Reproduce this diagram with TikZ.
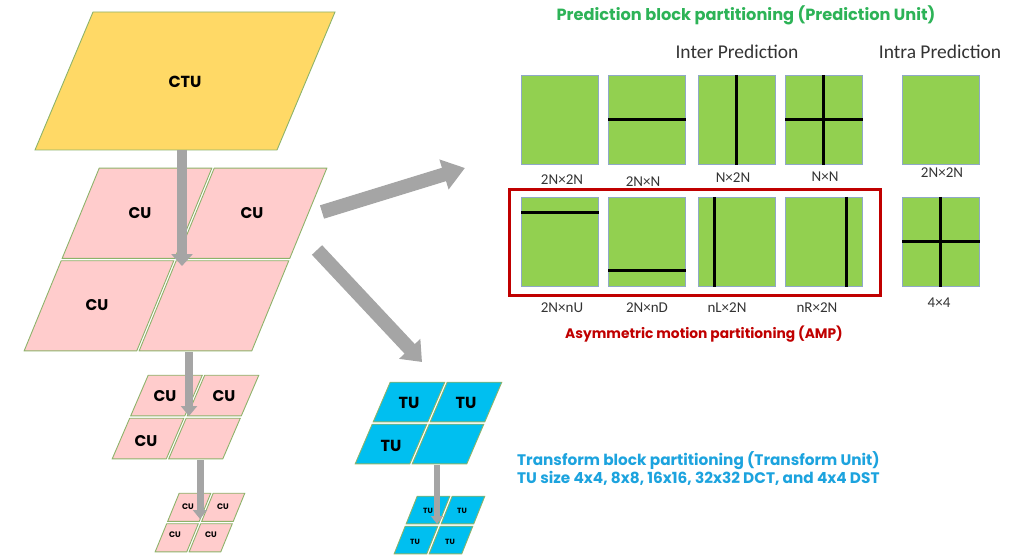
\documentclass[tikz,border=0pt]{standalone}
\usepackage{fontspec}
\setmainfont{Carlito}
\newfontfamily\gothic{Poppins}
\usetikzlibrary{arrows.meta,calc}
\definecolor{ctuY}{HTML}{FFD966}
\definecolor{cuP}{HTML}{FFCCCC}
\definecolor{tuC}{HTML}{00BFF0}
\definecolor{edgeG}{HTML}{8DB36A}
\definecolor{arrG}{HTML}{A5A5A5}
\definecolor{pbG}{HTML}{92D050}
\definecolor{pbEdge}{HTML}{8FA8C8}
\definecolor{ampR}{HTML}{C00000}
\definecolor{titleG}{HTML}{2DB357}
\definecolor{tuText}{HTML}{1CA3DE}
\definecolor{lblGray}{HTML}{333333}
% 2x2 grid of slanted cells: x0, y0, width, height, shear, fill
\newcommand{\qgrid}[6]{%
  \foreach \i in {0,1}{\foreach \j in {0,1}{%
    \pgfmathsetmacro{\tlx}{#1+\i*#3/2-\j*#5/2}%
    \pgfmathsetmacro{\tly}{#2+\j*#4/2}%
    \pgfmathsetmacro{\ddx}{#5/#4*(#4/2-2.4)}%
    \path[fill=#6,draw=edgeG,line width=0.9pt,line join=miter]
      (\tlx+1.2,\tly+1.2) -- ++(#3/2-2.4,0) -- ++(-\ddx,#4/2-2.4) -- ++(-#3/2+2.4,0) -- cycle;
  }}}
\tikzset{
  unitlbl/.style={font=\gothic\bfseries\fontsize{#1}{#1}\selectfont, text=black, inner sep=0pt},
  garrow/.style={draw=arrG, line cap=butt},
  gbox/.style={rectangle, fill=pbG, draw=pbEdge, line width=0.8pt, minimum width=77pt, minimum height=89pt, inner sep=0pt, anchor=north west},
  pline/.style={line width=3pt, black},
  plab/.style={font=\fontsize{15}{15}\selectfont, text=lblGray, inner sep=0pt},
  headtxt/.style={font=\fontsize{19.5}{19.5}\selectfont, text=lblGray, inner sep=0pt}
}
\begin{document}
\begin{tikzpicture}[x=1pt,y=-1pt]
\useasboundingbox (0,0) rectangle (1022,556);
% CTU
\path[fill=ctuY, draw=edgeG, line width=0.9pt] (93,12) -- (335,12) -- (277,150) -- (35,150) -- cycle;
% CU layers
\qgrid{98}{167}{230}{185}{76}{cuP}
\qgrid{147}{374}{113}{86}{37}{cuP}
\qgrid{178}{492}{68}{61}{25}{cuP}
% TU layers
\qgrid{389}{381}{114}{84}{36}{tuC}
\qgrid{416}{495}{70}{60}{24}{tuC}
% arrow end points
\coordinate (a1s) at (182,150); \coordinate (a1e) at (182,266);
\coordinate (a2s) at (189,352); \coordinate (a2e) at (189,416);
\coordinate (a3s) at (200,460); \coordinate (a3e) at (200,519);
\coordinate (a4s) at (437,465); \coordinate (a4e) at (437,524);
\coordinate (b1s) at (322,212); \coordinate (b1e) at (465,168);
\coordinate (b2s) at (317,250); \coordinate (b2e) at (422,362);
\draw[garrow, line width=10pt, -{Triangle[width=21pt,length=12pt]}] (a1s) -- (a1e);
\draw[garrow, line width=8pt, -{Triangle[width=16pt,length=10pt]}] (a2s) -- (a2e);
\draw[garrow, line width=7pt, -{Triangle[width=14pt,length=9pt]}] (a3s) -- (a3e);
\draw[garrow, line width=6pt, -{Triangle[width=12pt,length=8pt]}] (a4s) -- (a4e);
\draw[garrow, line width=14pt, -{Triangle[width=30pt,length=22pt]}] (b1s) -- (b1e);
\draw[garrow, line width=14pt, -{Triangle[width=28pt,length=18pt]}] (b2s) -- (b2e);
% unit labels
\node[unitlbl=16] (ctu) at (185,82) {CTU};
\node[unitlbl=15.5] (cu1a) at (140,213) {CU};
\node[unitlbl=15.5] (cu1b) at (252,213) {CU};
\node[unitlbl=15.5] (cu1c) at (97,305) {CU};
\node[unitlbl=15.5] (cu2a) at (165,396) {CU};
\node[unitlbl=15.5] (cu2b) at (224,396) {CU};
\node[unitlbl=15.5] (cu2c) at (146,441) {CU};
\node[unitlbl=8] (cu3a) at (188,507) {CU};
\node[unitlbl=8] (cu3b) at (223,507) {CU};
\node[unitlbl=8] (cu3c) at (175,535) {CU};
\node[unitlbl=8] (cu3d) at (211,535) {CU};
\node[unitlbl=16] (tu1a) at (409,403) {TU};
\node[unitlbl=16] (tu1b) at (466,403) {TU};
\node[unitlbl=16] (tu1c) at (391,446) {TU};
\node[unitlbl=7.5] (tu2a) at (428,511) {TU};
\node[unitlbl=7.5] (tu2b) at (462,511) {TU};
\node[unitlbl=7.5] (tu2c) at (415,542) {TU};
\node[unitlbl=7.5] (tu2d) at (450,542) {TU};
% Prediction unit side
\node[font=\gothic\bfseries\fontsize{16.2}{16.2}\selectfont, text=titleG, inner sep=0pt] (title) at (746,15) {Prediction block partitioning (Prediction Unit)};
\node[headtxt] (inter) at (737,52) {Inter Prediction};
\node[headtxt] (intra) at (940,52) {Intra Prediction};
% row 1
\node[gbox] (p1) at (521,75) {};
\node[gbox] (p2) at (608,75) {};
\node[gbox] (p3) at (698,75) {};
\node[gbox] (p4) at (785,75) {};
\node[gbox] (p5) at (902,75) {};
\draw[pline] (p2.west) -- (p2.east);
\draw[pline] (p3.north) -- (p3.south);
\draw[pline] (p4.west) -- (p4.east);
\draw[pline] (p4.north) -- (p4.south);
\node[plab] (l1) at (562,180) {2N×2N};
\node[plab] (l2) at (643,182) {2N×N};
\node[plab] (l3) at (733,178) {N×2N};
\node[plab] (l4) at (825,177) {N×N};
\node[plab] (l5) at (942,173) {2N×2N};
% row 2
\node[gbox] (q1) at (521,197) {};
\node[gbox] (q2) at (608,197) {};
\node[gbox] (q3) at (698,197) {};
\node[gbox] (q4) at (785,197) {};
\node[gbox] (q5) at (902,197) {};
\draw[pline] ($(q1.north west)+(0,15)$) -- ($(q1.north east)+(0,15)$);
\draw[pline] ($(q2.south west)+(0,-16)$) -- ($(q2.south east)+(0,-16)$);
\draw[pline] ($(q3.north west)+(16,0)$) -- ($(q3.south west)+(16,0)$);
\draw[pline] ($(q4.north east)+(-16,0)$) -- ($(q4.south east)+(-16,0)$);
\draw[pline] (q5.west) -- (q5.east);
\draw[pline] (q5.north) -- (q5.south);
\node[draw=ampR, line width=2.6pt, rectangle, minimum width=371pt, minimum height=106pt, anchor=north west, inner sep=0pt] (ampbox) at (508,188) {};
\node[plab] (m1) at (562,308) {2N×nU};
\node[plab] (m2) at (647,308) {2N×nD};
\node[plab] (m3) at (727,308) {nL×2N};
\node[plab] (m4) at (817,308) {nR×2N};
\node[plab] (m5) at (939,303) {4×4};
\node[font=\gothic\bfseries\fontsize{13.8}{13.8}\selectfont, text=ampR, inner sep=0pt] (amp) at (704,334) {Asymmetric motion partitioning (AMP)};
% transform text
\node[font=\gothic\bfseries\fontsize{15.3}{16}\selectfont, text=tuText, align=left, anchor=west, inner sep=0pt] (tutext) at (517,468.5) {Transform block partitioning (Transform Unit)\\TU size 4x4, 8x8, 16x16, 32x32 DCT, and 4x4 DST};
\end{tikzpicture}
\end{document}
